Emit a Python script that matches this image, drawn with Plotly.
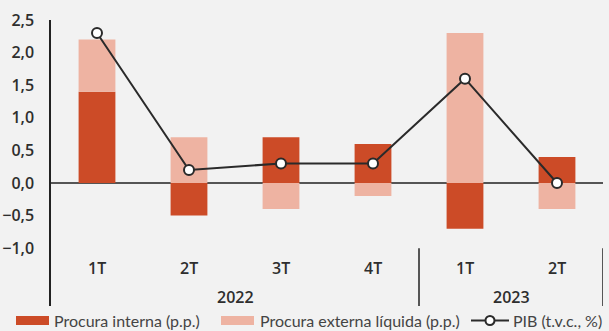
import plotly.graph_objects as go

quarters = ["1T", "2T", "3T", "4T", "1T", "2T"]
years = ["2022", "2023"]
year_spans = [(0, 3), (4, 5)]
procura_interna = [1.4, -0.5, 0.7, 0.6, -0.7, 0.4]
procura_externa = [0.8, 0.7, -0.4, -0.2, 2.3, -0.4]
pib = [2.3, 0.2, 0.3, 0.3, 1.6, 0.0]
y_ticks = [-1.0, -0.5, 0.0, 0.5, 1.0, 1.5, 2.0, 2.5]
series_names = ["Procura interna (p.p.)", "Procura externa líquida (p.p.)", "PIB (t.v.c., %)"]

x = list(range(len(quarters)))
RED = "#CC4B27"
PINK = "#EEB3A2"
LINE = "#2a2a2a"
TXT = "#2e2e2e"
FONT = "Open Sans"
LFONT = "Lato"

W, H = 609, 331
ML, MR, MT, MB = 51, 6, 20, 25
PW, PH = W - ML - MR, H - MT - MB


def px(v):
    return (v - ML) / PW


def py(v):
    return (H - MB - v) / PH


fig = go.Figure()
fig.add_trace(go.Bar(x=x, y=procura_interna, name=series_names[0], showlegend=False,
                     marker=dict(color=RED, line=dict(width=0)), width=0.4))
fig.add_trace(go.Bar(x=x, y=procura_externa, name=series_names[1], showlegend=False,
                     marker=dict(color=PINK, line=dict(width=0)), width=0.4))
fig.add_trace(go.Scatter(x=x, y=pib, name=series_names[2], mode="lines+markers", showlegend=False,
                         line=dict(color=LINE, width=2),
                         marker=dict(size=10, color="white", line=dict(color=LINE, width=2))))

ymin = -1.886
annotations = []
for xi, q in zip(x, quarters):
    annotations.append(dict(x=xi, y=-1.3, xref="x", yref="y", text=q, showarrow=False,
                            font=dict(family=FONT, size=16, color=TXT, weight=600)))
for yr, (a, b) in zip(years, year_spans):
    annotations.append(dict(x=(a + b) / 2, y=-1.75, xref="x", yref="y", text=yr, showarrow=False,
                            font=dict(family=FONT, size=16, color=TXT, weight=600)))

shapes = []
for (a, b) in year_spans:
    shapes.append(dict(type="line", xref="x", yref="y", x0=b + 0.5, x1=b + 0.5, y0=-1.0, y1=ymin,
                       line=dict(color="#222222", width=1.5)))

# manual legend (layout positions in pixels)
leg_y = 320.5
shapes.append(dict(type="rect", xref="paper", yref="paper", x0=px(16), x1=px(49),
                   y0=py(leg_y + 4.5), y1=py(leg_y - 4.5), fillcolor=RED, line=dict(width=0)))
shapes.append(dict(type="rect", xref="paper", yref="paper", x0=px(221), x1=px(254),
                   y0=py(leg_y + 4.5), y1=py(leg_y - 4.5), fillcolor=PINK, line=dict(width=0)))
shapes.append(dict(type="line", xref="paper", yref="paper", x0=px(471), x1=px(509),
                   y0=py(leg_y), y1=py(leg_y), line=dict(color=LINE, width=2)))
shapes.append(dict(type="circle", xref="paper", yref="paper", x0=px(485.5), x1=px(494.5),
                   y0=py(leg_y + 4.5), y1=py(leg_y - 4.5), fillcolor="white",
                   line=dict(color=LINE, width=2)))
for name, lx in zip(series_names, [52, 258, 511]):
    annotations.append(dict(x=px(lx), y=py(leg_y), xref="paper", yref="paper", text=name,
                            showarrow=False, xanchor="left", yanchor="middle",
                            font=dict(family=LFONT, size=16, color="#444444")))

fig.update_layout(
    width=W, height=H,
    paper_bgcolor="#F2F2F2", plot_bgcolor="#F2F2F2",
    margin=dict(l=ML, r=MR, t=MT, b=MB, autoexpand=False),
    barmode="relative",
    separators=",.",
    showlegend=False,
    font=dict(family=FONT, color=TXT),
    xaxis=dict(range=[-0.5, 5.5], showticklabels=False, showgrid=False, zeroline=False,
               showline=False, fixedrange=True),
    yaxis=dict(range=[ymin, 2.5], tickvals=y_ticks, tickformat=".1f", showgrid=False,
               zeroline=True, zerolinecolor="#555555", zerolinewidth=1.5,
               showline=True, linecolor="#222222", linewidth=1.5,
               ticks="", ticklabelstandoff=12,
               tickfont=dict(family=FONT, size=16, color=TXT, weight=600)),
    annotations=annotations,
    shapes=shapes,
)

fig.write_html("out.html")
